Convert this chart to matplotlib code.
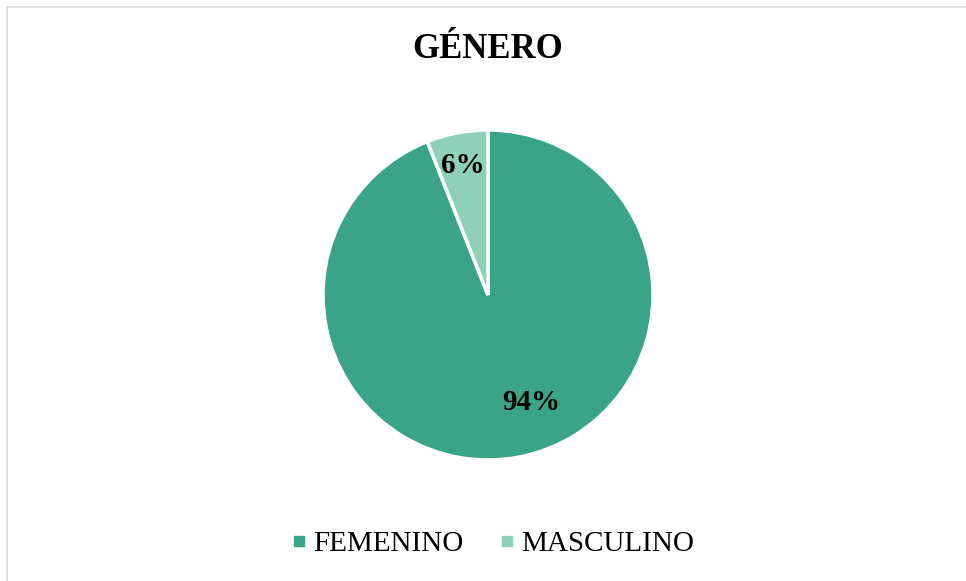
import matplotlib.pyplot as plt
from matplotlib.patches import Rectangle
from matplotlib.lines import Line2D

categories = ["FEMENINO", "MASCULINO"]
values = [94, 6]
colors = ["#3AA486", "#8FD0B8"]

plt.rcParams["font.family"] = ["Liberation Serif", "DejaVu Serif"]

W, H = 966, 581
fig = plt.figure(figsize=(W / 100, H / 100), dpi=100)

# light grey chart border (right/bottom edges fall outside the image)
fig.patches.append(Rectangle((7 / W, -0.05), 1.1, 1 - 7 / H + 0.05,
                             transform=fig.transFigure, fill=False,
                             edgecolor="#D9D9D9", linewidth=1.2))

cx, cy, r = 488, 295, 165
ax = fig.add_axes([(cx - r) / W, (H - cy - r) / H, 2 * r / W, 2 * r / H])
wedges, texts, autotexts = ax.pie(
    values, colors=colors, startangle=90, counterclock=False,
    autopct="%1.0f%%", pctdistance=0.8,
    wedgeprops=dict(edgecolor="white", linewidth=2.5),
    textprops=dict(fontsize=21, fontweight="bold", color="black"),
)
autotexts[0].set_position((0.26, -0.65))
ax.set_aspect("equal")
ax.set_xlim(-1, 1)
ax.set_ylim(-1, 1)

fig.text(cx / W, 1 - 50 / H, "GÉNERO", ha="center", va="center",
         fontsize=25, fontweight="bold")

handles = [Line2D([], [], linestyle="none", marker="s", markersize=7.2,
                  markerfacecolor=c, markeredgecolor=c) for c in colors]
fig.legend(handles, categories, loc="center", bbox_to_anchor=(494 / W, 1 - 544 / H),
           ncol=2, frameon=False, fontsize=21, handlelength=0.35,
           handletextpad=0.31, columnspacing=1.3, borderpad=0, borderaxespad=0)

fig.savefig("out.png", dpi=100)
